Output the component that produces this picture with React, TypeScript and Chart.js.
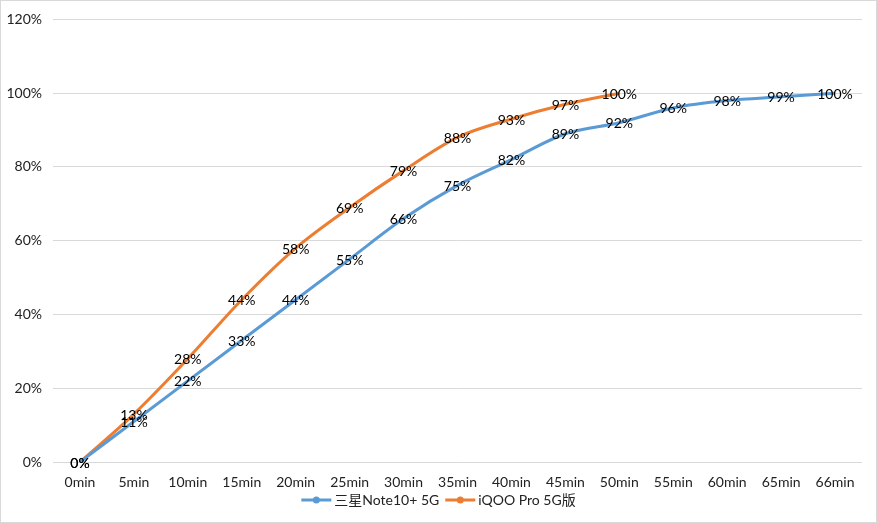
import React, { useEffect, useRef } from "react";
import { Chart, registerables } from "chart.js";

Chart.register(...registerables);

const categories = ["0min", "5min", "10min", "15min", "20min", "25min", "30min", "35min", "40min", "45min", "50min", "55min", "60min", "65min", "66min"];
const samsungLabel = "三星Note10+ 5G";
const iqooLabel = "iQOO Pro 5G版";
const samsungValues = [0, 11, 22, 33, 44, 55, 66, 75, 82, 89, 92, 96, 98, 99, 100];
const iqooValues = [0, 13, 28, 44, 58, 69, 79, 88, 93, 97, 100, null, null, null, null];
const yTicks = [0, 20, 40, 60, 80, 100, 120];

const BLUE = "#5B9BD5";
const ORANGE = "#ED7D31";
const FONT = "Lato, 'Noto Sans CJK SC', sans-serif";

export default function App() {
  const ref = useRef<HTMLCanvasElement | null>(null);

  useEffect(() => {
    const canvas = ref.current!;
    const bgPlugin = {
      id: "bg",
      beforeDraw(chart: any) {
        const { ctx, width, height } = chart;
        ctx.save();
        ctx.fillStyle = "#ffffff";
        ctx.fillRect(0, 0, width, height);
        ctx.strokeStyle = "#d9d9d9";
        ctx.lineWidth = 1;
        ctx.strokeRect(0.5, 0.5, width - 1, height - 1);
        ctx.restore();
      },
    };
    const labelPlugin = {
      id: "labels",
      afterDatasetsDraw(chart: any) {
        const { ctx } = chart;
        ctx.save();
        ctx.font = `14px ${FONT}`;
        ctx.fillStyle = "#000000";
        ctx.textAlign = "center";
        ctx.textBaseline = "middle";
        for (let d = chart.data.datasets.length - 1; d >= 0; d--) {
          const ds = chart.data.datasets[d];
          const meta = chart.getDatasetMeta(d);
          meta.data.forEach((pt: any, i: number) => {
            const v = ds.data[i];
            if (v === null || v === undefined) return;
            ctx.fillText(`${v}%`, pt.x, pt.y + 1);
          });
        }
        ctx.restore();
      },
    };
    const legendPlugin = {
      id: "customLegend",
      afterDraw(chart: any) {
        const { ctx, width } = chart;
        ctx.save();
        ctx.font = `14px ${FONT}`;
        ctx.textBaseline = "middle";
        ctx.textAlign = "left";
        const items = [
          { label: samsungLabel, color: BLUE },
          { label: iqooLabel, color: ORANGE },
        ];
        const lineLen = 30;
        const gap = 3;
        const itemGap = 6;
        const widths = items.map((it) => lineLen + gap + ctx.measureText(it.label).width);
        const total = widths.reduce((a, b) => a + b, 0) + itemGap * (items.length - 1);
        let x = width / 2 - total / 2;
        const y = 500;
        items.forEach((it, i) => {
          ctx.strokeStyle = it.color;
          ctx.lineWidth = 3;
          ctx.beginPath();
          ctx.moveTo(x, y);
          ctx.lineTo(x + lineLen, y);
          ctx.stroke();
          ctx.fillStyle = it.color;
          ctx.beginPath();
          ctx.arc(x + lineLen / 2, y, 3.5, 0, Math.PI * 2);
          ctx.fill();
          ctx.fillStyle = "#222222";
          ctx.fillText(it.label, x + lineLen + gap, y);
          x += widths[i] + itemGap;
        });
        ctx.restore();
      },
    };

    const chart = new Chart(canvas, {
      type: "line",
      data: {
        labels: categories,
        datasets: [
          {
            label: samsungLabel,
            data: samsungValues,
            borderColor: BLUE,
            backgroundColor: BLUE,
            borderWidth: 3,
            pointRadius: 0,
            tension: 0.3,
            cubicInterpolationMode: "monotone",
          },
          {
            label: iqooLabel,
            data: iqooValues,
            borderColor: ORANGE,
            backgroundColor: ORANGE,
            borderWidth: 3,
            pointRadius: 0,
            tension: 0.3,
            cubicInterpolationMode: "monotone",
            spanGaps: false,
          },
        ],
      },
      options: {
        responsive: false,
        animation: false,
        layout: { padding: { left: 0, right: 15, top: 17, bottom: 31 } },
        plugins: {
          legend: { display: false },
          tooltip: { enabled: false },
        },
        scales: {
          x: {
            offset: true,
            grid: { display: false, drawTicks: false },
            border: { display: false },
            ticks: {
              padding: 12,
              color: "#222222",
              font: { family: FONT, size: 14 },
              maxRotation: 0,
              autoSkip: false,
            },
            afterFit(scale: any) {
              scale.height = 30;
            },
          },
          y: {
            min: 0,
            max: 120,
            grid: { color: "#d9d9d9", drawTicks: false, lineWidth: 1 },
            border: { display: false },
            afterBuildTicks(scale: any) {
              scale.ticks = yTicks.map((v) => ({ value: v }));
            },
            ticks: {
              padding: 11,
              color: "#222222",
              font: { family: FONT, size: 14 },
              callback: (v: any) => `${v}%`,
            },
            afterFit(scale: any) {
              scale.width = 53;
            },
          },
        },
      },
      plugins: [bgPlugin, labelPlugin, legendPlugin],
    } as any);
    return () => chart.destroy();
  }, []);

  return (
    <div style={{ position: "absolute", left: 0, top: 0, width: 877, height: 523 }}>
      <canvas ref={ref} width={877} height={523} style={{ width: 877, height: 523, display: "block" }} />
    </div>
  );
}
